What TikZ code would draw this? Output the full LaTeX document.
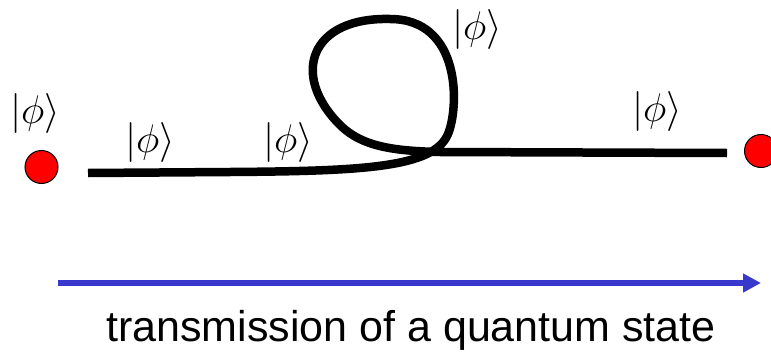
\documentclass[tikz,border=0pt]{standalone}
\usepackage{fix-cm}
\usepackage{fontspec}
\newfontfamily\captionfont{Liberation Sans}
\usetikzlibrary{arrows.meta}
\definecolor{arrowblue}{RGB}{56,56,204}
\tikzset{
  ball/.style={circle,draw=black,line width=1pt,fill=red,minimum size=33pt,inner sep=0pt},
  ket/.style={inner sep=0pt,font=\fontsize{40}{42}\selectfont},
  fibre/.style={line width=8.5pt,line cap=butt,line join=round}
}
\begin{document}
\begin{tikzpicture}[x=1pt,y=-1pt]
\useasboundingbox (0,0) rectangle (771,351);
% sender and receiver
\node[ball] (srcball) at (41.5,167) {};
\node[ball] (dstball) at (761,151) {};
% states along the fibre
\node[ket] (ketsrc) at (35,113) {$|\phi\rangle$};
\node[ket] (keta) at (150,142) {$|\phi\rangle$};
\node[ket] (ketb) at (288,142) {$|\phi\rangle$};
\node[ket] (ketloop) at (477,29) {$|\phi\rangle$};
\node[ket] (ketdst) at (657,111) {$|\phi\rangle$};
% the fibre with its loop
\draw[fibre] (88,173) -- (230,172)
  .. controls (362,171) and (434,168) .. (448,134)
  .. controls (459,108) and (462,19) .. (390,19)
  .. controls (310,17) and (290,75) .. (340,125)
  .. controls (362,147) and (395,151) .. (440,152)
  -- (727,153);
% direction of transmission
\coordinate (arrstart) at (58,283);
\coordinate (arrend) at (761,283);
\draw[arrowblue,line width=6pt,-{Triangle[length=18pt,width=18pt]}] (arrstart) -- (arrend);
\node[anchor=base,inner sep=0pt,font=\captionfont\fontsize{43}{50}\selectfont] (caption) at (411,341) {transmission of a quantum state};
\end{tikzpicture}
\end{document}
